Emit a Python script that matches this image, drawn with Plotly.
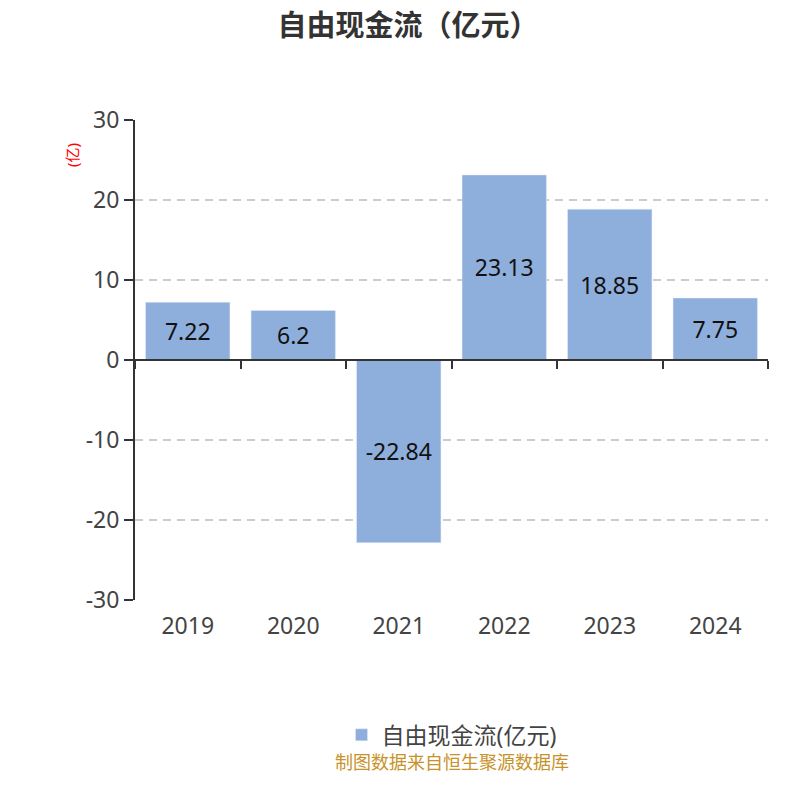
import plotly.graph_objects as go

years = ['2019', '2020', '2021', '2022', '2023', '2024']
free_cash_flow = [7.22, 6.2, -22.84, 23.13, 18.85, 7.75]
bar_labels = ['7.22', '6.2', '-22.84', '23.13', '18.85', '7.75']
y_ticks = [-30, -20, -10, 0, 10, 20, 30]
y_tick_text = ['-30', '-20', '-10', '0', '10', '20', '30']

font_family = 'Noto Sans, Noto Sans CJK SC, sans-serif'

fig = go.Figure()
fig.add_trace(go.Bar(
    x=years,
    y=free_cash_flow,
    name='自由现金流(亿元)',
    marker_color='#8eaedb',
    text=bar_labels,
    textposition='inside',
    insidetextanchor='middle',
    textfont=dict(size=23, color='#111'),
    width=0.8,
))
# empty trace so the zero-line axis gets drawn
fig.add_trace(go.Scatter(x=[], y=[], xaxis='x2', showlegend=False, hoverinfo='skip'))

fig.update_layout(
    width=800, height=800,
    paper_bgcolor='white', plot_bgcolor='white',
    font=dict(family=font_family, color='#333'),
    margin=dict(l=127, r=40, t=112, b=208),
    title=dict(text='<b>自由现金流（亿元）</b>', x=0.5, xanchor='center', y=0.978, yanchor='middle',
               font=dict(size=29, color='#333', family=font_family)),
    xaxis=dict(showline=False, showgrid=False, zeroline=False,
               ticks='outside', ticklen=5, tickcolor='rgba(0,0,0,0)',
               tickfont=dict(size=23, color='#444')),
    xaxis2=dict(overlaying='x', anchor='free', position=0.5, range=[-0.5, 5.5],
                type='linear', tick0=-0.5, dtick=1, showticklabels=False,
                showline=True, linecolor='#333', linewidth=2,
                ticks='outside', ticklen=8, tickcolor='#333', tickwidth=2,
                showgrid=False, zeroline=False),
    yaxis=dict(range=[-30, 30], tickvals=y_ticks, ticktext=y_tick_text,
               showline=True, linecolor='#333', linewidth=2,
               ticks='outside', ticklen=9, tickcolor='#333', tickwidth=2,
               showgrid=True, gridcolor='#cccccc', griddash='8px,6px', gridwidth=1.5,
               zeroline=False, tickfont=dict(size=23, color='#444')),
    legend=dict(orientation='h', x=0.5, xanchor='center', y=-0.281, yanchor='middle',
                font=dict(size=23, color='#444')),
    showlegend=True,
    annotations=[
        dict(text='(亿)', textangle=-90, x=-0.0995, y=0.927, xref='paper', yref='paper',
             xanchor='center', yanchor='middle',
             showarrow=False, font=dict(size=15, color='red')),
        dict(text='制图数据来自恒生聚源数据库', x=0.5, y=-0.3375, xref='paper', yref='paper',
             xanchor='center', yanchor='middle',
             showarrow=False, font=dict(size=18, color='#c8922a')),
    ],
)

fig.write_html('out.html')
